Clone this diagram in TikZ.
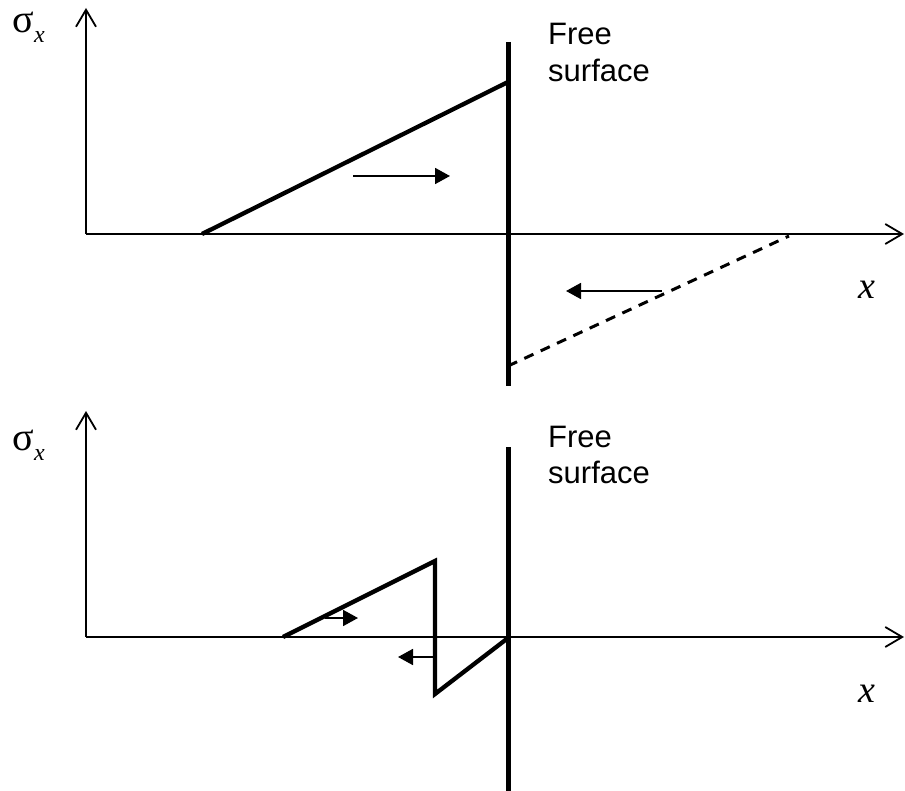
\documentclass[tikz,border=0pt]{standalone}
\usepackage{fontspec}
\setmainfont{Liberation Serif}
\newfontfamily\arialf{Liberation Sans}
\usetikzlibrary{arrows.meta}
\begin{document}
\begin{tikzpicture}[x=1pt,y=-1pt,
  axis/.style={line width=1.8pt,-{Straight Barb[length=17pt,width=20pt,line width=1.8pt]}},
  wall/.style={line width=5pt},
  stress/.style={line width=4.3pt},
  dashedstress/.style={line width=3pt,dash pattern=on 10pt off 8pt},
  dir/.style={line width=1.8pt,-{Triangle[length=15pt,width=16pt]}},
  lbl/.style={inner sep=0pt,anchor=base west},
  sig/.style={lbl,font=\fontsize{40}{40}\selectfont},
  sub/.style={lbl,font=\fontsize{24}{24}\selectfont\itshape},
  xl/.style={lbl,font=\fontsize{38}{38}\selectfont\itshape},
  fs/.style={lbl,font=\arialf\fontsize{31}{31}\selectfont},
]
\useasboundingbox (0,0) rectangle (905,791);
% ---------- top plot ----------
\coordinate (o1) at (86,234);
\coordinate (y1) at (86,8);
\coordinate (x1) at (904,234);
\draw[axis] (o1) -- (y1);
\draw[axis] (o1) -- (x1);
\coordinate (s1a) at (202,234);
\coordinate (s1b) at (508,82);
\draw[stress] (s1a) -- (s1b);
\coordinate (d1a) at (508,366);
\coordinate (d1b) at (789,236);
\draw[dashedstress] (d1a) -- (d1b);
\coordinate (w1t) at (508,42);
\coordinate (w1b) at (508,386);
\draw[wall] (w1t) -- (w1b);
\coordinate (a1s) at (353,176);
\coordinate (a1e) at (450,176);
\draw[dir] (a1s) -- (a1e);
\coordinate (a2s) at (662,291);
\coordinate (a2e) at (566,291);
\draw[dir] (a2s) -- (a2e);
\node[sig] (sig1) at (12,33) {σ};
\node[sub] (sub1) at (34,43) {x};
\node[fs] (free1) at (548,45) {Free};
\node[fs] (surf1) at (548,82) {surface};
\node[xl] (xl1) at (858,299) {x};
% ---------- bottom plot ----------
\coordinate (o2) at (86,637);
\coordinate (y2) at (86,411);
\coordinate (x2) at (904,637);
\draw[axis] (o2) -- (y2);
\draw[axis] (o2) -- (x2);
\coordinate (z1) at (283,637);
\coordinate (z2) at (435,561);
\coordinate (z3) at (435,694);
\coordinate (z4) at (508,638);
\draw[stress] (z1) -- (z2) -- (z3) -- (z4);
\coordinate (w2t) at (508,447);
\coordinate (w2b) at (508,791);
\draw[wall] (w2t) -- (w2b);
\coordinate (b1s) at (325,618);
\coordinate (b1e) at (358,618);
\draw[dir] (b1s) -- (b1e);
\coordinate (b2s) at (435,657);
\coordinate (b2e) at (398,657);
\draw[dir] (b2s) -- (b2e);
\node[sig] (sig2) at (12,450) {σ};
\node[sub] (sub2) at (34,460) {x};
\node[fs] (free2) at (548,447) {Free};
\node[fs] (surf2) at (548,483) {surface};
\node[xl] (xl2) at (858,702) {x};
\end{tikzpicture}
\end{document}
